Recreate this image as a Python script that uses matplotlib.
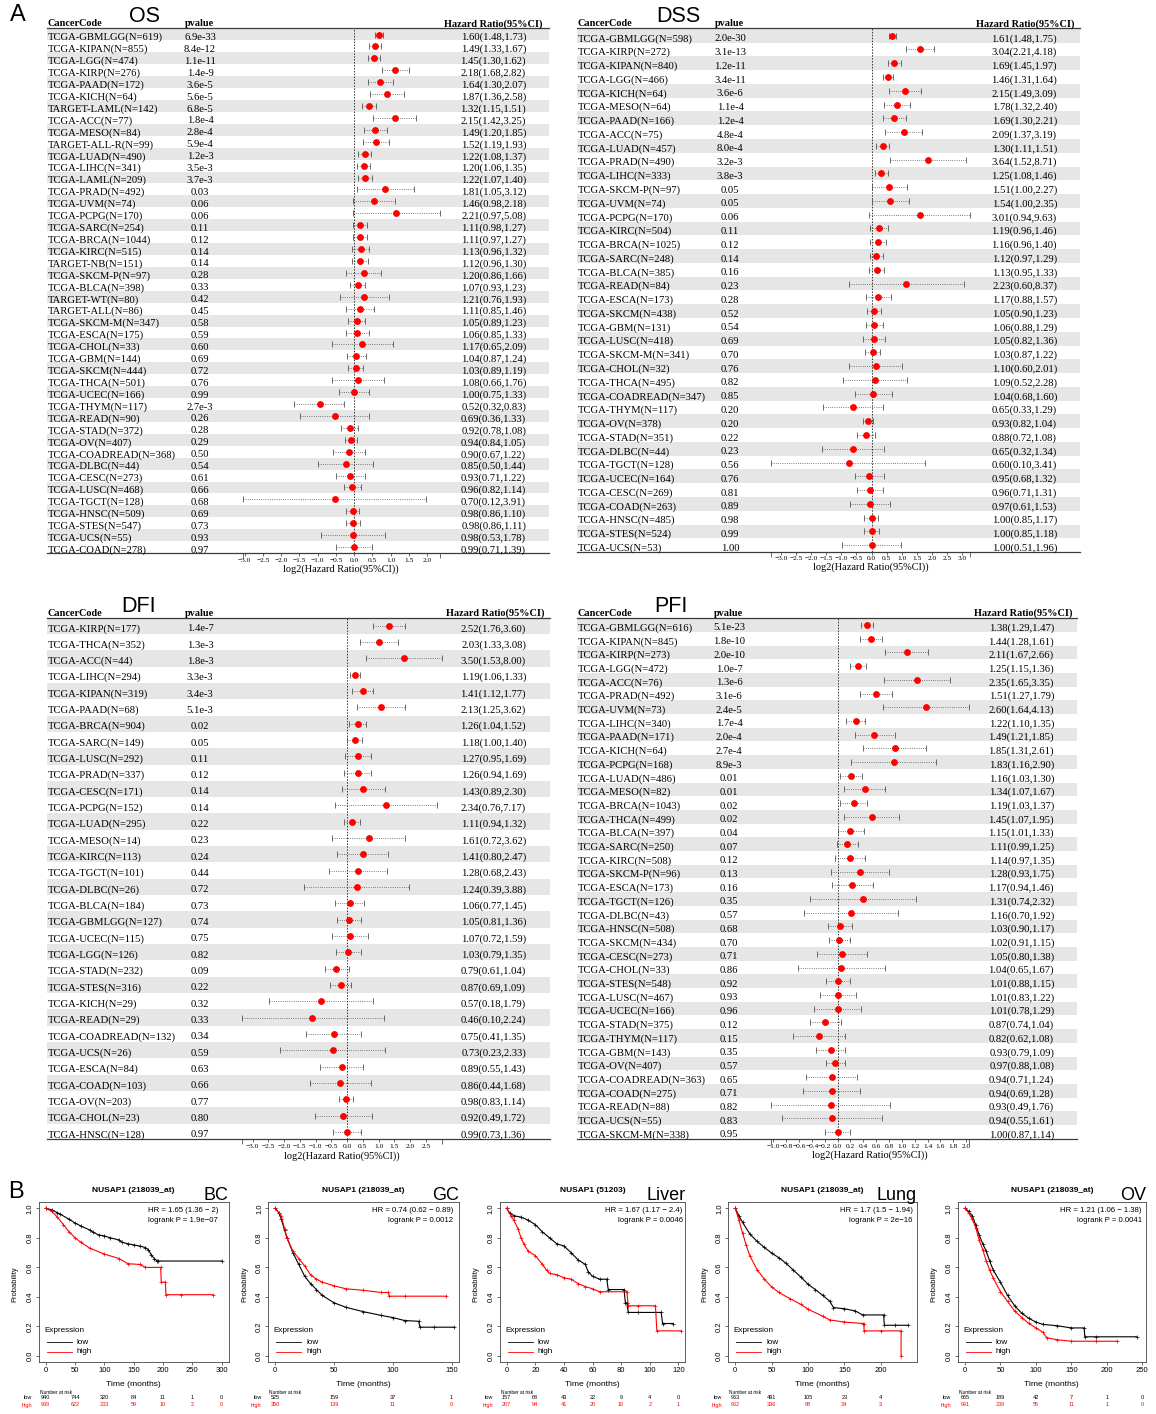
import numpy as np
import matplotlib.pyplot as plt
from matplotlib.lines import Line2D
from matplotlib.patches import Rectangle
from matplotlib.transforms import blended_transform_factory as blend

W, H = 1156, 1414
SERIF = 'Liberation Serif'
SANS = 'Liberation Sans'
plt.rcParams['font.family'] = SANS

# ---------------- forest data ----------------
os_labels = ['TCGA-GBMLGG(N=619)', 'TCGA-KIPAN(N=855)', 'TCGA-LGG(N=474)', 'TCGA-KIRP(N=276)',
             'TCGA-PAAD(N=172)', 'TCGA-KICH(N=64)', 'TARGET-LAML(N=142)', 'TCGA-ACC(N=77)',
             'TCGA-MESO(N=84)', 'TARGET-ALL-R(N=99)', 'TCGA-LUAD(N=490)', 'TCGA-LIHC(N=341)',
             'TCGA-LAML(N=209)', 'TCGA-PRAD(N=492)', 'TCGA-UVM(N=74)', 'TCGA-PCPG(N=170)',
             'TCGA-SARC(N=254)', 'TCGA-BRCA(N=1044)', 'TCGA-KIRC(N=515)', 'TARGET-NB(N=151)',
             'TCGA-SKCM-P(N=97)', 'TCGA-BLCA(N=398)', 'TARGET-WT(N=80)', 'TARGET-ALL(N=86)',
             'TCGA-SKCM-M(N=347)', 'TCGA-ESCA(N=175)', 'TCGA-CHOL(N=33)', 'TCGA-GBM(N=144)',
             'TCGA-SKCM(N=444)', 'TCGA-THCA(N=501)', 'TCGA-UCEC(N=166)', 'TCGA-THYM(N=117)',
             'TCGA-READ(N=90)', 'TCGA-STAD(N=372)', 'TCGA-OV(N=407)', 'TCGA-COADREAD(N=368)',
             'TCGA-DLBC(N=44)', 'TCGA-CESC(N=273)', 'TCGA-LUSC(N=468)', 'TCGA-TGCT(N=128)',
             'TCGA-HNSC(N=509)', 'TCGA-STES(N=547)', 'TCGA-UCS(N=55)', 'TCGA-COAD(N=278)']
os_p = ['6.9e-33', '8.4e-12', '1.1e-11', '1.4e-9', '3.6e-5', '5.6e-5', '6.8e-5', '1.8e-4',
        '2.8e-4', '5.9e-4', '1.2e-3', '3.5e-3', '3.7e-3', '0.03', '0.06', '0.06', '0.11', '0.12',
        '0.14', '0.14', '0.28', '0.33', '0.42', '0.45', '0.58', '0.59', '0.60', '0.69', '0.72',
        '0.76', '0.99', '2.7e-3', '0.26', '0.28', '0.29', '0.50', '0.54', '0.61', '0.66', '0.68',
        '0.69', '0.73', '0.93', '0.97']
os_hr = [1.60, 1.49, 1.45, 2.18, 1.64, 1.87, 1.32, 2.15, 1.49, 1.52, 1.22, 1.20, 1.22, 1.81, 1.46,
         2.21, 1.11, 1.11, 1.13, 1.12, 1.20, 1.07, 1.21, 1.11, 1.05, 1.06, 1.17, 1.04, 1.03, 1.08,
         1.00, 0.52, 0.69, 0.92, 0.94, 0.90, 0.85, 0.93, 0.96, 0.70, 0.98, 0.98, 0.98, 0.99]
os_lo = [1.48, 1.33, 1.30, 1.68, 1.30, 1.36, 1.15, 1.42, 1.20, 1.19, 1.08, 1.06, 1.07, 1.05, 0.98,
         0.97, 0.98, 0.97, 0.96, 0.96, 0.86, 0.93, 0.76, 0.85, 0.89, 0.85, 0.65, 0.87, 0.89, 0.66,
         0.75, 0.32, 0.36, 0.78, 0.84, 0.67, 0.50, 0.71, 0.82, 0.12, 0.86, 0.86, 0.53, 0.71]
os_hi = [1.73, 1.67, 1.62, 2.82, 2.07, 2.58, 1.51, 3.25, 1.85, 1.93, 1.37, 1.35, 1.40, 3.12, 2.18,
         5.08, 1.27, 1.27, 1.32, 1.30, 1.66, 1.23, 1.93, 1.46, 1.23, 1.33, 2.09, 1.24, 1.19, 1.76,
         1.33, 0.83, 1.33, 1.08, 1.05, 1.22, 1.44, 1.22, 1.14, 3.91, 1.10, 1.11, 1.78, 1.39]

dss_labels = ['TCGA-GBMLGG(N=598)', 'TCGA-KIRP(N=272)', 'TCGA-KIPAN(N=840)', 'TCGA-LGG(N=466)',
              'TCGA-KICH(N=64)', 'TCGA-MESO(N=64)', 'TCGA-PAAD(N=166)', 'TCGA-ACC(N=75)',
              'TCGA-LUAD(N=457)', 'TCGA-PRAD(N=490)', 'TCGA-LIHC(N=333)', 'TCGA-SKCM-P(N=97)',
              'TCGA-UVM(N=74)', 'TCGA-PCPG(N=170)', 'TCGA-KIRC(N=504)', 'TCGA-BRCA(N=1025)',
              'TCGA-SARC(N=248)', 'TCGA-BLCA(N=385)', 'TCGA-READ(N=84)', 'TCGA-ESCA(N=173)',
              'TCGA-SKCM(N=438)', 'TCGA-GBM(N=131)', 'TCGA-LUSC(N=418)', 'TCGA-SKCM-M(N=341)',
              'TCGA-CHOL(N=32)', 'TCGA-THCA(N=495)', 'TCGA-COADREAD(N=347)', 'TCGA-THYM(N=117)',
              'TCGA-OV(N=378)', 'TCGA-STAD(N=351)', 'TCGA-DLBC(N=44)', 'TCGA-TGCT(N=128)',
              'TCGA-UCEC(N=164)', 'TCGA-CESC(N=269)', 'TCGA-COAD(N=263)', 'TCGA-HNSC(N=485)',
              'TCGA-STES(N=524)', 'TCGA-UCS(N=53)']
dss_p = ['2.0e-30', '3.1e-13', '1.2e-11', '3.4e-11', '3.6e-6', '1.1e-4', '1.2e-4', '4.8e-4',
         '8.0e-4', '3.2e-3', '3.8e-3', '0.05', '0.05', '0.06', '0.11', '0.12', '0.14', '0.16',
         '0.23', '0.28', '0.52', '0.54', '0.69', '0.70', '0.76', '0.82', '0.85', '0.20', '0.20',
         '0.22', '0.23', '0.56', '0.76', '0.81', '0.89', '0.98', '0.99', '1.00']
dss_hr = [1.61, 3.04, 1.69, 1.46, 2.15, 1.78, 1.69, 2.09, 1.30, 3.64, 1.25, 1.51, 1.54, 3.01, 1.19,
          1.16, 1.12, 1.13, 2.23, 1.17, 1.05, 1.06, 1.05, 1.03, 1.10, 1.09, 1.04, 0.65, 0.93, 0.88,
          0.65, 0.60, 0.95, 0.96, 0.97, 1.00, 1.00, 1.00]
dss_lo = [1.48, 2.21, 1.45, 1.31, 1.49, 1.32, 1.30, 1.37, 1.11, 1.52, 1.08, 1.00, 1.00, 0.94, 0.96,
          0.96, 0.97, 0.95, 0.60, 0.88, 0.90, 0.88, 0.82, 0.87, 0.60, 0.52, 0.68, 0.33, 0.82, 0.72,
          0.32, 0.10, 0.68, 0.71, 0.61, 0.85, 0.85, 0.51]
dss_hi = [1.75, 4.18, 1.97, 1.64, 3.09, 2.40, 2.21, 3.19, 1.51, 8.71, 1.46, 2.27, 2.35, 9.63, 1.46,
          1.40, 1.29, 1.33, 8.37, 1.57, 1.23, 1.29, 1.36, 1.22, 2.01, 2.28, 1.60, 1.29, 1.04, 1.08,
          1.34, 3.41, 1.32, 1.31, 1.53, 1.17, 1.18, 1.96]

dfi_labels = ['TCGA-KIRP(N=177)', 'TCGA-THCA(N=352)', 'TCGA-ACC(N=44)', 'TCGA-LIHC(N=294)',
              'TCGA-KIPAN(N=319)', 'TCGA-PAAD(N=68)', 'TCGA-BRCA(N=904)', 'TCGA-SARC(N=149)',
              'TCGA-LUSC(N=292)', 'TCGA-PRAD(N=337)', 'TCGA-CESC(N=171)', 'TCGA-PCPG(N=152)',
              'TCGA-LUAD(N=295)', 'TCGA-MESO(N=14)', 'TCGA-KIRC(N=113)', 'TCGA-TGCT(N=101)',
              'TCGA-DLBC(N=26)', 'TCGA-BLCA(N=184)', 'TCGA-GBMLGG(N=127)', 'TCGA-UCEC(N=115)',
              'TCGA-LGG(N=126)', 'TCGA-STAD(N=232)', 'TCGA-STES(N=316)', 'TCGA-KICH(N=29)',
              'TCGA-READ(N=29)', 'TCGA-COADREAD(N=132)', 'TCGA-UCS(N=26)', 'TCGA-ESCA(N=84)',
              'TCGA-COAD(N=103)', 'TCGA-OV(N=203)', 'TCGA-CHOL(N=23)', 'TCGA-HNSC(N=128)']
dfi_p = ['1.4e-7', '1.3e-3', '1.8e-3', '3.3e-3', '3.4e-3', '5.1e-3', '0.02', '0.05', '0.11',
         '0.12', '0.14', '0.14', '0.22', '0.23', '0.24', '0.44', '0.72', '0.73', '0.74', '0.75',
         '0.82', '0.09', '0.22', '0.32', '0.33', '0.34', '0.59', '0.63', '0.66', '0.77', '0.80',
         '0.97']
dfi_hr = [2.52, 2.03, 3.50, 1.19, 1.41, 2.13, 1.26, 1.18, 1.27, 1.26, 1.43, 2.34, 1.11, 1.61, 1.41,
          1.28, 1.24, 1.06, 1.05, 1.07, 1.03, 0.79, 0.87, 0.57, 0.46, 0.75, 0.73, 0.89, 0.86, 0.98,
          0.92, 0.99]
dfi_lo = [1.76, 1.33, 1.53, 1.06, 1.12, 1.25, 1.04, 1.00, 0.95, 0.94, 0.89, 0.76, 0.94, 0.72, 0.80,
          0.68, 0.39, 0.77, 0.81, 0.72, 0.79, 0.61, 0.69, 0.18, 0.10, 0.41, 0.23, 0.55, 0.44, 0.83,
          0.49, 0.73]
dfi_hi = [3.60, 3.08, 8.00, 1.33, 1.77, 3.62, 1.52, 1.40, 1.69, 1.69, 2.30, 7.17, 1.32, 3.62, 2.47,
          2.43, 3.88, 1.45, 1.36, 1.59, 1.35, 1.04, 1.09, 1.79, 2.24, 1.35, 2.33, 1.43, 1.68, 1.14,
          1.72, 1.36]

pfi_labels = ['TCGA-GBMLGG(N=616)', 'TCGA-KIPAN(N=845)', 'TCGA-KIRP(N=273)', 'TCGA-LGG(N=472)',
              'TCGA-ACC(N=76)', 'TCGA-PRAD(N=492)', 'TCGA-UVM(N=73)', 'TCGA-LIHC(N=340)',
              'TCGA-PAAD(N=171)', 'TCGA-KICH(N=64)', 'TCGA-PCPG(N=168)', 'TCGA-LUAD(N=486)',
              'TCGA-MESO(N=82)', 'TCGA-BRCA(N=1043)', 'TCGA-THCA(N=499)', 'TCGA-BLCA(N=397)',
              'TCGA-SARC(N=250)', 'TCGA-KIRC(N=508)', 'TCGA-SKCM-P(N=96)', 'TCGA-ESCA(N=173)',
              'TCGA-TGCT(N=126)', 'TCGA-DLBC(N=43)', 'TCGA-HNSC(N=508)', 'TCGA-SKCM(N=434)',
              'TCGA-CESC(N=273)', 'TCGA-CHOL(N=33)', 'TCGA-STES(N=548)', 'TCGA-LUSC(N=467)',
              'TCGA-UCEC(N=166)', 'TCGA-STAD(N=375)', 'TCGA-THYM(N=117)', 'TCGA-GBM(N=143)',
              'TCGA-OV(N=407)', 'TCGA-COADREAD(N=363)', 'TCGA-COAD(N=275)', 'TCGA-READ(N=88)',
              'TCGA-UCS(N=55)', 'TCGA-SKCM-M(N=338)']
pfi_p = ['5.1e-23', '1.8e-10', '2.0e-10', '1.0e-7', '1.3e-6', '3.1e-6', '2.4e-5', '1.7e-4',
         '2.0e-4', '2.7e-4', '8.9e-3', '0.01', '0.01', '0.02', '0.02', '0.04', '0.07', '0.12',
         '0.13', '0.16', '0.35', '0.57', '0.68', '0.70', '0.71', '0.86', '0.92', '0.93', '0.96',
         '0.12', '0.15', '0.35', '0.57', '0.65', '0.71', '0.82', '0.83', '0.95']
pfi_hr = [1.38, 1.44, 2.11, 1.25, 2.35, 1.51, 2.60, 1.22, 1.49, 1.85, 1.83, 1.16, 1.34, 1.19, 1.45,
          1.15, 1.11, 1.14, 1.28, 1.17, 1.31, 1.16, 1.03, 1.02, 1.05, 1.04, 1.01, 1.01, 1.01, 0.87,
          0.82, 0.93, 0.97, 0.94, 0.94, 0.93, 0.94, 1.00]
pfi_lo = [1.29, 1.28, 1.67, 1.15, 1.65, 1.27, 1.64, 1.10, 1.21, 1.31, 1.16, 1.03, 1.07, 1.03, 1.07,
          1.01, 0.99, 0.97, 0.93, 0.94, 0.74, 0.70, 0.90, 0.91, 0.80, 0.65, 0.88, 0.83, 0.78, 0.74,
          0.62, 0.79, 0.88, 0.71, 0.69, 0.49, 0.55, 0.87]
pfi_hi = [1.47, 1.61, 2.66, 1.36, 3.35, 1.79, 4.13, 1.35, 1.85, 2.61, 2.90, 1.30, 1.67, 1.37, 1.95,
          1.33, 1.25, 1.35, 1.75, 1.46, 2.32, 1.92, 1.17, 1.15, 1.38, 1.67, 1.15, 1.22, 1.29, 1.04,
          1.08, 1.09, 1.08, 1.24, 1.28, 1.76, 1.61, 1.14]

os_ticks = [-3.0, -2.5, -2.0, -1.5, -1.0, -0.5, 0.0, 0.5, 1.0, 1.5, 2.0]
dss_ticks = [-3.0, -2.5, -2.0, -1.5, -1.0, -0.5, 0.0, 0.5, 1.0, 1.5, 2.0, 2.5, 3.0]
dfi_ticks = [-3.0, -2.5, -2.0, -1.5, -1.0, -0.5, 0.0, 0.5, 1.0, 1.5, 2.0, 2.5]
pfi_ticks = [-1.0, -0.8, -0.6, -0.4, -0.2, 0.0, 0.2, 0.4, 0.6, 0.8, 1.0, 1.2, 1.4, 1.6, 1.8, 2.0]

# ---------------- survival curves ----------------
bc_low_t = [0, 10, 20, 25, 40, 50, 60, 75, 80, 90, 100, 110, 125, 130, 140, 150, 160, 170, 175, 180, 185, 190, 192, 300]
bc_low_p = [1.0, 0.99, 0.97, 0.96, 0.925, 0.90, 0.88, 0.853, 0.84, 0.82, 0.813, 0.80, 0.786, 0.77, 0.76,
            0.752, 0.745, 0.734, 0.72, 0.684, 0.66, 0.643, 0.643, 0.643]
bc_high_t = [0, 10, 20, 30, 40, 50, 60, 75, 100, 125, 140, 160, 170, 196, 197, 204, 205, 230, 285]
bc_high_p = [1.0, 0.98, 0.94, 0.89, 0.84, 0.80, 0.77, 0.73, 0.69, 0.66, 0.625, 0.62, 0.60, 0.60, 0.50,
             0.50, 0.415, 0.415, 0.415]

gc_low_t = [0, 3, 5, 8, 10, 15, 20, 25, 30, 35, 40, 50, 60, 75, 90, 100, 110, 122, 123, 135, 152]
gc_low_p = [1.0, 0.97, 0.93, 0.85, 0.80, 0.70, 0.62, 0.54, 0.49, 0.45, 0.41, 0.36, 0.33, 0.30, 0.275,
            0.26, 0.24, 0.235, 0.195, 0.195, 0.195]
gc_high_t = [0, 5, 8, 10, 15, 20, 25, 30, 35, 40, 50, 60, 75, 90, 96, 97, 110, 145]
gc_high_p = [1.0, 0.95, 0.86, 0.80, 0.71, 0.66, 0.61, 0.55, 0.52, 0.50, 0.475, 0.455, 0.445, 0.43,
             0.43, 0.405, 0.405, 0.405]

lv_low_t = [0, 2, 5, 10, 15, 20, 25, 30, 35, 40, 45, 50, 55, 57, 60, 65, 70, 71, 82, 83, 84, 85, 92, 108, 109, 116]
lv_low_p = [1.0, 0.97, 0.95, 0.94, 0.92, 0.89, 0.84, 0.80, 0.76, 0.745, 0.70, 0.65, 0.62, 0.57, 0.54,
            0.52, 0.52, 0.45, 0.45, 0.36, 0.36, 0.295, 0.295, 0.295, 0.22, 0.22]
lv_high_t = [0, 3, 5, 8, 10, 12, 15, 20, 25, 28, 30, 35, 40, 45, 50, 55, 60, 65, 84, 85, 92, 104, 105, 122]
lv_high_p = [1.0, 0.95, 0.92, 0.86, 0.80, 0.76, 0.71, 0.68, 0.62, 0.58, 0.56, 0.55, 0.53, 0.52, 0.49,
             0.47, 0.455, 0.435, 0.435, 0.34, 0.34, 0.34, 0.17, 0.17]

lu_low_t = [0, 5, 10, 20, 30, 40, 50, 60, 70, 80, 90, 100, 110, 120, 130, 135, 150, 165, 175, 204, 205, 220, 238]
lu_low_p = [1.0, 0.95, 0.905, 0.826, 0.776, 0.735, 0.697, 0.665, 0.627, 0.58, 0.536, 0.486, 0.45, 0.412,
            0.37, 0.328, 0.32, 0.305, 0.278, 0.278, 0.208, 0.208, 0.208]
lu_high_t = [0, 5, 10, 15, 20, 30, 40, 50, 60, 75, 90, 100, 120, 130, 150, 175, 177, 177, 200, 228, 228]
lu_high_p = [1.0, 0.92, 0.833, 0.75, 0.679, 0.584, 0.52, 0.468, 0.43, 0.389, 0.35, 0.317, 0.27, 0.244,
             0.23, 0.22, 0.22, 0.17, 0.17, 0.17, 0.0]

ov_low_t = [0, 5, 10, 15, 20, 25, 30, 35, 40, 50, 60, 70, 80, 90, 100, 110, 130, 150, 168, 169, 185, 242]
ov_low_p = [1.0, 0.98, 0.95, 0.89, 0.82, 0.76, 0.71, 0.64, 0.58, 0.50, 0.41, 0.34, 0.29, 0.255, 0.23,
            0.214, 0.205, 0.19, 0.19, 0.13, 0.13, 0.13]
ov_high_t = [0, 5, 10, 15, 20, 25, 30, 35, 40, 50, 60, 70, 80, 90, 100, 110, 115, 130, 150, 185, 215]
ov_high_p = [1.0, 0.97, 0.93, 0.87, 0.786, 0.72, 0.643, 0.58, 0.526, 0.436, 0.37, 0.305, 0.26, 0.221,
             0.19, 0.16, 0.124, 0.11, 0.10, 0.10, 0.10]

bc_risk = ([940, 744, 320, 84, 11, 1, 0], [939, 622, 233, 59, 10, 2, 0])
gc_risk = ([525, 159, 37, 1], [350, 139, 11, 0])
lv_risk = ([157, 68, 43, 22, 9, 4, 0], [207, 94, 41, 20, 10, 2, 1])
lu_risk = ([963, 491, 105, 23, 4], [962, 336, 98, 34, 3])
ov_risk = ([665, 189, 42, 7, 1, 0], [991, 239, 55, 11, 1, 0])

fig = plt.figure(figsize=(W / 100, H / 100), dpi=100)


def fx(x):
    return x / W


def fy(y):
    return 1 - y / H


def forest(labels, pvals, hr, lo, hi, ticks, title, lay):
    n = len(labels)
    lhr, llo, lhi = np.log2(hr), np.log2(lo), np.log2(hi)
    x0, x1 = llo.min(), lhi.max()
    z, u = lay['zero'], lay['unit']
    r0, s, yh, yb = lay['r0'], lay['step'], lay['yh'], lay['yb']
    ax = fig.add_axes([fx(z + x0 * u), fy(yb), (x1 - x0) * u / W, (yb - yh) / H])
    ax.set_xlim(x0, x1)
    ax.set_ylim((yb - r0) / s, (yh - r0) / s)
    ax.patch.set_alpha(0)
    for sp in ax.spines.values():
        sp.set_visible(False)
    tr = blend(fig.transFigure, ax.transData)
    L, R = fx(lay['left']), fx(lay['right'])
    rows = np.arange(n)
    # grey row bands
    for i in rows[::2]:
        ax.add_patch(Rectangle((L, i - 0.5), R - L, 1, transform=tr, color='#e6e6e6',
                               lw=0, zorder=0, clip_on=False))
    for yy in ((yh - r0) / s, (yb - r0) / s):
        ax.plot([L, R], [yy, yy], transform=tr, color='#3c3c3c', lw=0.9, clip_on=False)
    ax.axvline(0, color='#333333', lw=0.7, ls=(0, (1.5, 1.5)))
    ax.hlines(rows, llo, lhi, colors='#555555', lw=0.6, linestyles='dotted')
    ax.plot(llo, rows, '|', color='#555555', ms=4, mew=0.6)
    ax.plot(lhi, rows, '|', color='#555555', ms=4, mew=0.6)
    ax.plot(lhr, rows, 'o', color='red', ms=3.9, zorder=5)
    dy = 3 / s
    fs = 7.7
    for i in rows:
        ax.text(fx(lay['lab']), i + dy, labels[i], transform=tr, ha='left', va='center',
                fontsize=fs, family=SERIF)
        ax.text(fx(lay['pc']), i + dy, pvals[i], transform=tr, ha='center', va='center',
                fontsize=fs, family=SERIF)
        ax.text(fx(lay['hrr']), i + dy, f'{hr[i]:.2f}({lo[i]:.2f},{hi[i]:.2f})', transform=tr,
                ha='right', va='center', fontsize=fs, family=SERIF)
    hy = (yh - 2 - r0) / s
    ax.text(fx(lay['lab']), hy, 'CancerCode', transform=tr, ha='left', va='baseline',
            fontsize=7.4, family=SERIF, fontweight='bold')
    ax.text(fx(lay['pc']), hy, 'pvalue', transform=tr, ha='center', va='baseline',
            fontsize=7.4, family=SERIF, fontweight='bold')
    ax.text(fx(lay['hrh']), hy, 'Hazard Ratio(95%CI)', transform=tr, ha='right', va='baseline',
            fontsize=7.4, family=SERIF, fontweight='bold')
    ax.set_yticks([])
    ax.set_xticks(ticks)
    ax.set_xticklabels([f'{t:.1f}'.replace('-', '\u2212') for t in ticks], fontsize=5.3,
                       family=SERIF)
    ax.set_xticks([x0, x1], minor=True)
    ax.tick_params(axis='x', which='major', length=2, width=0.5, pad=1.2, color='#333333')
    ax.tick_params(axis='x', which='minor', length=3.5, width=0.5, color='#333333')
    fig.text(fx(z + (x0 + x1) / 2 * u), fy(lay['xl']), 'log2(Hazard Ratio(95%CI))',
             ha='center', va='center', fontsize=7.4, family=SERIF)
    fig.text(fx(lay['tx']), fy(lay['ty']), title, ha='left', va='center', fontsize=15.5)


forest(os_labels, os_p, os_hr, os_lo, os_hi, os_ticks, 'OS',
       dict(zero=354.2, unit=36.5, r0=34.5, step=11.92, yh=28.3, yb=553.3, left=46.5, right=549,
            lab=47.5, pc=200, hrr=526, hrh=543, xl=569.5, tx=129, ty=16))
forest(dss_labels, dss_p, dss_hr, dss_lo, dss_hi, dss_ticks, 'DSS',
       dict(zero=871.5, unit=30.2, r0=35.7, step=13.77, yh=28.3, yb=552, left=577, right=1080,
            lab=578, pc=730, hrr=1057, hrh=1074, xl=567.5, tx=656, ty=17))
forest(dfi_labels, dfi_p, dfi_hr, dfi_lo, dfi_hi, dfi_ticks, 'DFI',
       dict(zero=347, unit=31.5, r0=625.7, step=16.33, yh=617.7, yb=1139.3, left=46.5, right=550,
            lab=47.5, pc=200, hrr=526, hrh=545, xl=1156, tx=121, ty=606))
forest(pfi_labels, pfi_p, pfi_hr, pfi_lo, pfi_hi, pfi_ticks, 'PFI',
       dict(zero=837.5, unit=64.3, r0=625, step=13.7, yh=617.7, yb=1139.3, left=577, right=1077,
            lab=577.5, pc=729, hrr=1054, hrh=1072, xl=1155.5, tx=654, ty=606))

fig.text(fx(10), fy(15), 'A', ha='left', va='center', fontsize=17)
fig.text(fx(8), fy(1192), 'B', ha='left', va='center', fontsize=17)


def km(bx0, bx1, xl, xticks, lo_t, lo_p, hi_t, hi_p, title, tag, hr_txt, p_txt, hr_x, risk):
    yt, yb = 1202.4, 1361.9
    ax = fig.add_axes([fx(bx0), fy(yb), (bx1 - bx0) / W, (yb - yt) / H])
    ax.set_xlim(*xl)
    ax.set_ylim(-0.04, 1.04)
    for t, p, c in ((lo_t, lo_p, 'black'), (hi_t, hi_p, 'red')):
        ax.plot(t, p, color=c, lw=0.8)
        ax.plot(t, p, '+', color=c, ms=2.6, mew=0.5)
    ax.set_xticks(xticks)
    ax.set_xticklabels([str(v) for v in xticks])
    yv = [0.0, 0.2, 0.4, 0.6, 0.8, 1.0]
    ax.set_yticks(yv)
    ax.set_yticklabels([f'{v:.1f}' for v in yv], rotation=90, va='center')
    ax.tick_params(length=2.5, width=0.5, labelsize=5.5, pad=1.2, color='#333333')
    for sp in ax.spines.values():
        sp.set_linewidth(0.6)
        sp.set_color('#444444')
    cx = (bx0 + bx1) / 2
    fig.text(fx(cx), fy(1190), title, ha='center', va='center', fontsize=6, fontweight='bold')
    fig.text(fx(bx1), fy(1195), tag, ha='right', va='center', fontsize=13)
    fig.text(fx(hr_x), fy(1210), hr_txt, ha='right', va='center', fontsize=5.6)
    fig.text(fx(hr_x), fy(1220.7), p_txt, ha='right', va='center', fontsize=5.6)
    fig.text(fx(bx0 + 5.5), fy(1330.7), 'Expression', ha='left', va='center', fontsize=5.9)
    for yy, c, lab in ((1342, 'black', 'low'), (1351.7, 'red', 'high')):
        fig.add_artist(Line2D([fx(bx0 + 8), fx(bx0 + 33)], [fy(yy), fy(yy)], color=c, lw=0.6))
        fig.text(fx(bx0 + 38), fy(yy), lab, ha='left', va='center', fontsize=5.9)
    fig.text(fx(cx), fy(1384), 'Time (months)', ha='center', va='center', fontsize=6.1)
    fig.text(fx(bx0 - 23.7), fy(1284), 'Probability', rotation=90, ha='center', va='center',
             fontsize=5.4)
    fig.text(fx(bx0 + 1), fy(1392), 'Number at risk', ha='left', va='center', fontsize=3.5)
    tr = blend(ax.transData, fig.transFigure)
    for yy, c, lab, vals in ((1397.7, 'black', 'low', risk[0]), (1405, 'red', 'high', risk[1])):
        fig.text(fx(bx0 - 6.5), fy(yy), lab, color=c, ha='right', va='center', fontsize=4)
        for t, v in zip(xticks, vals):
            ax.text(t, fy(yy), str(v), transform=tr, color=c, ha='center', va='center',
                    fontsize=4, clip_on=False)


km(38.7, 228.7, (-12, 312), [0, 50, 100, 150, 200, 250, 300], bc_low_t, bc_low_p,
   bc_high_t, bc_high_p, 'NUSAP1 (218039_at)', 'BC', 'HR = 1.65 (1.36 \u2212 2)',
   'logrank P = 1.9e\u221207', 218.3, bc_risk)
km(268.2, 458.7, (-6, 156), [0, 50, 100, 150], gc_low_t, gc_low_p, gc_high_t, gc_high_p,
   'NUSAP1 (218039_at)', 'GC', 'HR = 0.74 (0.62 \u2212 0.89)', 'logrank P = 0.0012', 453.3,
   gc_risk)
km(499.8, 685.2, (-4.8, 124.8), [0, 20, 40, 60, 80, 100, 120], lv_low_t, lv_low_p, lv_high_t,
   lv_high_p, 'NUSAP1 (51203)', 'Liver', 'HR = 1.67 (1.17 \u2212 2.4)', 'logrank P = 0.0046',
   682.5, lv_risk)
km(728.3, 916.8, (-9.6, 249.6), [0, 50, 100, 150, 200], lu_low_t, lu_low_p, lu_high_t,
   lu_high_p, 'NUSAP1 (218039_at)', 'Lung', 'HR = 1.7 (1.5 \u2212 1.94)',
   'logrank P = 2e\u221216', 912.7, lu_risk)
km(957.9, 1145.8, (-10, 255), [0, 50, 100, 150, 200, 250], ov_low_t, ov_low_p, ov_high_t,
   ov_high_p, 'NUSAP1 (218039_at)', 'OV', 'HR = 1.21 (1.06 \u2212 1.38)',
   'logrank P = 0.0041', 1141.7, ov_risk)

fig.savefig('out.png', dpi=100)
